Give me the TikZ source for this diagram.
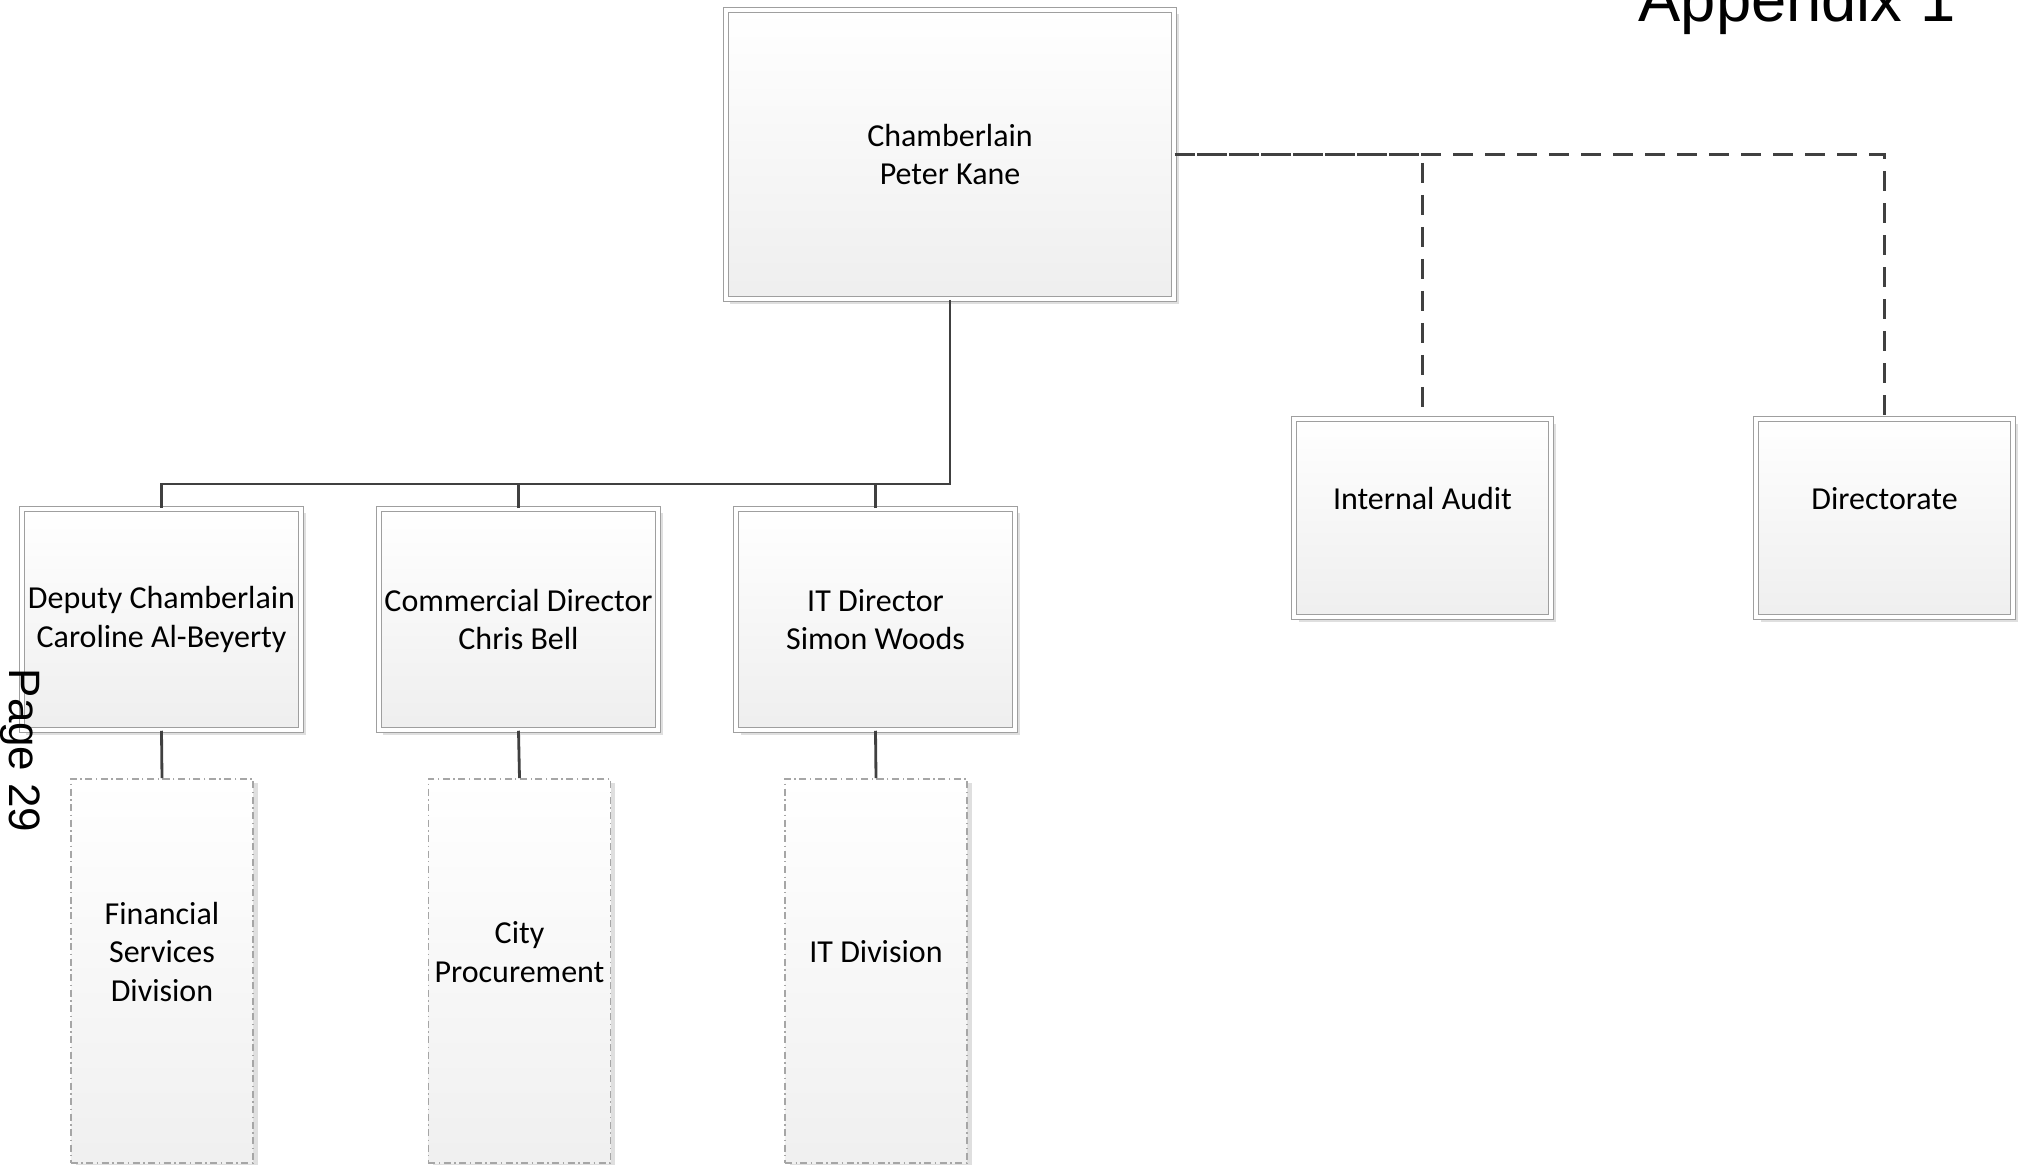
\documentclass[tikz,border=0pt]{standalone}
\usepackage{fontspec}
\setmainfont{Carlito}
\newfontfamily\arialfont{Liberation Sans}
\usetikzlibrary{shadows}
\tikzset{
  orgbox/.style={draw=gray!75, double=white, double distance=1.1pt, line width=0.4pt,
    top color=white, bottom color=gray!13, align=center, inner sep=1pt,
    font=\fontsize{9.1}{11}\selectfont,
    drop shadow={shadow xshift=1.3pt, shadow yshift=-1.3pt, fill=black!25}},
  headbox/.style={orgbox, minimum width=2.79cm, minimum height=2.21cm},
  sidebox/.style={orgbox, minimum width=2.57cm, minimum height=1.98cm},
  subbox/.style={draw=gray!70, line width=0.4pt, dash pattern=on 2pt off 1pt on 0.4pt off 1pt,
    top color=white, bottom color=gray!12, align=center, inner sep=1pt,
    font=\fontsize{9.1}{11}\selectfont, minimum width=1.82cm, minimum height=3.84cm,
    drop shadow={shadow xshift=1.3pt, shadow yshift=-1.3pt, fill=black!25}},
  conn/.style={draw=black!75, line width=0.8pt},
  dashconn/.style={conn, dash pattern=on 5.7pt off 3.4pt}
}
\begin{document}
\begin{tikzpicture}[x=0.01cm, y=-0.01cm]
\useasboundingbox (0,0) rectangle (2024,1165);
% top of the chart
\node[orgbox, minimum width=4.48cm, minimum height=2.89cm] (cham) at (950,154.5) {Chamberlain\\Peter Kane};
% directors
\node[headbox] (dep) at (161.5,619.5) {Deputy Chamberlain\\Caroline Al-Beyerty};
\node[headbox] (com) at (518.5,619.5) {Commercial Director\\Chris Bell};
\node[headbox] (itd) at (875.5,619.5) {IT Director\\Simon Woods};
\node[sidebox] (aud) at (1422.5,518) {Internal Audit\\\mbox{}};
\node[sidebox] (dir) at (1884.5,518) {Directorate\\\mbox{}};
% divisions
\node[subbox] (fsd) at (162,971) {Financial\\Services\\Division\\\mbox{}};
\node[subbox] (cpr) at (519.5,971) {City\\Procurement\\\mbox{}};
\node[subbox] (itv) at (876,971) {IT Division\\\mbox{}};
% lines
\coordinate (bus) at (0,484);
\draw[conn] (cham.south) -- (cham.south |- bus) -| (dep.north);
\draw[conn] (com.north) -- (com.north |- bus);
\draw[conn] (itd.north) -- (itd.north |- bus);
\draw[conn] (dep.south) -- (fsd.north);
\draw[conn] (com.south) -- (cpr.north);
\draw[conn] (itd.south) -- (itv.north);
\draw[dashconn] (cham.east) -| (aud.north);
\draw[dashconn, dash phase=2.8pt] (cham.east) -| (dir.north);
% page marks
\node[font=\arialfont\fontsize{18}{21}\selectfont, anchor=base west, inner sep=0] (app) at (1638,22) {Appendix 1};
\node[font=\arialfont\fontsize{12.5}{15}\selectfont, anchor=base west, inner sep=0, rotate=-90] (pg) at (10,668) {Page 29};
\end{tikzpicture}
\end{document}
